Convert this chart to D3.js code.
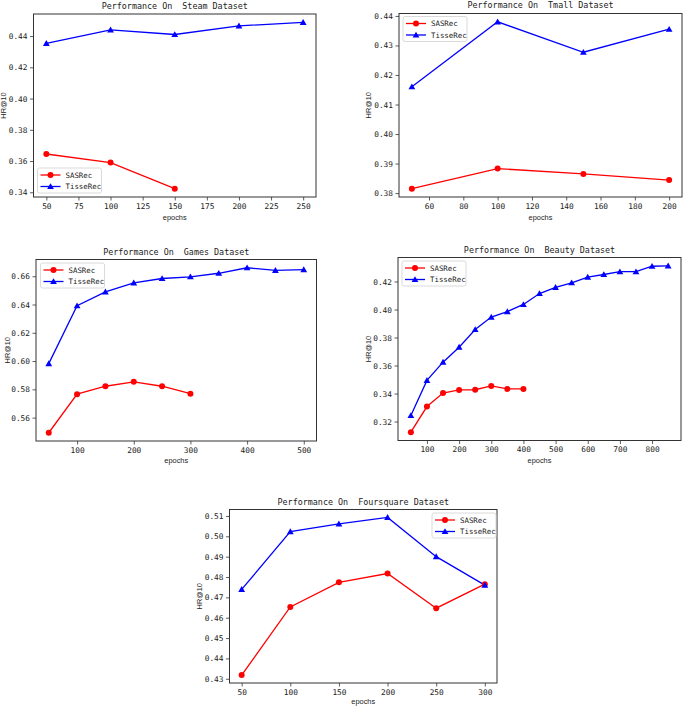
<!DOCTYPE html>
<html>
<head>
<meta charset="utf-8">
<script src="https://cdn.jsdelivr.net/npm/d3@7"></script>
<style>
  html, body { margin: 0; padding: 0; background: #fff; }
  svg { display: block; }
</style>
</head>
<body>
<svg id="chart" width="685" height="706"></svg>
<script>
// ---------------- DATA ----------------
const seriesNames = ["SASRec", "TisseRec"];

const steamEpochs = [50, 100, 150, 200, 250];
const steamSASRec = [0.3645, 0.3590, 0.3423];
const steamTisseRec = [0.4353, 0.4440, 0.4410, 0.4465, 0.4488];
const steamXTicks = [50, 75, 100, 125, 150, 175, 200, 225, 250];
const steamYTicks = [0.34, 0.36, 0.38, 0.40, 0.42, 0.44];

const tmallEpochs = [50, 100, 150, 200];
const tmallSASRec = [0.3815, 0.3883, 0.3865, 0.3844];
const tmallTisseRec = [0.4160, 0.4380, 0.4277, 0.4355];
const tmallXTicks = [60, 80, 100, 120, 140, 160, 180, 200];
const tmallYTicks = [0.38, 0.39, 0.40, 0.41, 0.42, 0.43, 0.44];

const gamesEpochs = [50, 100, 150, 200, 250, 300, 350, 400, 450, 500];
const gamesSASRec = [0.5493, 0.5766, 0.5822, 0.5853, 0.5822, 0.5769];
const gamesTisseRec = [0.5982, 0.6391, 0.6489, 0.6553, 0.6584, 0.6596, 0.6621, 0.6660, 0.6641, 0.6647];
const gamesXTicks = [100, 200, 300, 400, 500];
const gamesYTicks = [0.56, 0.58, 0.60, 0.62, 0.64, 0.66];

const beautyEpochs = [50, 100, 150, 200, 250, 300, 350, 400, 450, 500, 550, 600, 650, 700, 750, 800, 850];
const beautySASRec = [0.3124, 0.3307, 0.3403, 0.3426, 0.3427, 0.3454, 0.3433, 0.3433];
const beautyTisseRec = [0.3243, 0.3494, 0.3624, 0.3731, 0.3857, 0.3946, 0.3985, 0.4036, 0.4114, 0.4158, 0.4191, 0.4231, 0.4250, 0.4270, 0.4270, 0.4309, 0.4312];
const beautyXTicks = [100, 200, 300, 400, 500, 600, 700, 800];
const beautyYTicks = [0.32, 0.34, 0.36, 0.38, 0.40, 0.42];

const foursquareEpochs = [50, 100, 150, 200, 250, 300];
const foursquareSASRec = [0.4318, 0.4653, 0.4774, 0.4817, 0.4647, 0.4765];
const foursquareTisseRec = [0.4739, 0.5023, 0.5061, 0.5093, 0.4900, 0.4760];
const foursquareXTicks = [50, 100, 150, 200, 250, 300];
const foursquareYTicks = [0.43, 0.44, 0.45, 0.46, 0.47, 0.48, 0.49, 0.50, 0.51];

// ---------------- LAYOUT ----------------
const panels = [
  { title: "Performance On  Steam Dataset", epochs: steamEpochs, sas: steamSASRec, tisse: steamTisseRec,
    xTicks: steamXTicks, yTicks: steamYTicks,
    box: { x0: 33.5, x1: 316, y0: 14, y1: 197 }, titleY: 9, xlabY: 220, ylabX: 6,
    legend: { x: 37.5, y: 168 } },
  { title: "Performance On  Tmall Dataset", epochs: tmallEpochs, sas: tmallSASRec, tisse: tmallTisseRec,
    xTicks: tmallXTicks, yTicks: tmallYTicks,
    box: { x0: 399, x1: 682, y0: 13.5, y1: 197 }, titleY: 8, xlabY: 220, ylabX: 371,
    legend: { x: 403, y: 16.5 } },
  { title: "Performance On  Games Dataset", epochs: gamesEpochs, sas: gamesSASRec, tisse: gamesTisseRec,
    xTicks: gamesXTicks, yTicks: gamesYTicks,
    box: { x0: 36, x1: 316.5, y0: 259.5, y1: 441 }, titleY: 255, xlabY: 463, ylabX: 10,
    legend: { x: 40.5, y: 263 } },
  { title: "Performance On  Beauty Dataset", epochs: beautyEpochs, sas: beautySASRec, tisse: beautyTisseRec,
    xTicks: beautyXTicks, yTicks: beautyYTicks,
    box: { x0: 398, x1: 681, y0: 257.5, y1: 440.5 }, titleY: 252.5, xlabY: 463, ylabX: 371,
    legend: { x: 402, y: 261 } },
  { title: "Performance On  Foursquare Dataset", epochs: foursquareEpochs, sas: foursquareSASRec, tisse: foursquareTisseRec,
    xTicks: foursquareXTicks, yTicks: foursquareYTicks,
    box: { x0: 229.5, x1: 497, y0: 509.5, y1: 683 }, titleY: 505, xlabY: 704, ylabX: 202,
    legend: { x: 432, y: 513 } }
];

const RED = "#ff0000", BLUE = "#0000ff";
const MONO = "'DejaVu Sans Mono', 'Liberation Mono', monospace";
const SANS = "'Liberation Sans', Arial, sans-serif";

const svg = d3.select("#chart");

function pad(ext) {
  const r = ext[1] - ext[0];
  return [ext[0] - 0.05 * r, ext[1] + 0.05 * r];
}

panels.forEach(p => {
  const b = p.box;
  const sasPts = p.sas.map((v, i) => ({ x: p.epochs[i], y: v }));
  const tisPts = p.tisse.map((v, i) => ({ x: p.epochs[i], y: v }));
  const all = sasPts.concat(tisPts);

  const x = d3.scaleLinear().domain(pad(d3.extent(all, d => d.x))).range([b.x0, b.x1]);
  const y = d3.scaleLinear().domain(pad(d3.extent(all, d => d.y))).range([b.y1, b.y0]);

  const g = svg.append("g");

  // axes
  const xAxis = d3.axisBottom(x).tickValues(p.xTicks).tickSize(3.5).tickPadding(2.5).tickFormat(d3.format("d"));
  const yAxis = d3.axisLeft(y).tickValues(p.yTicks).tickSize(3.5).tickPadding(2.5)
    .tickFormat(d3.format(p.yTicks[1] - p.yTicks[0] < 0.015 ? ".2f" : ".2f"));

  const gx = g.append("g").attr("transform", `translate(0,${b.y1})`).call(xAxis);
  const gy = g.append("g").attr("transform", `translate(${b.x0},0)`).call(yAxis);
  [gx, gy].forEach(a => {
    a.select(".domain").remove();
    a.selectAll(".tick line").attr("stroke", "#333").attr("stroke-width", 0.8);
    a.selectAll(".tick text").attr("fill", "#222").style("font-family", MONO).style("font-size", "7.8px");
  });

  // frame
  g.append("rect")
    .attr("x", b.x0).attr("y", b.y0)
    .attr("width", b.x1 - b.x0).attr("height", b.y1 - b.y0)
    .attr("fill", "none").attr("stroke", "#333").attr("stroke-width", 1);

  // lines
  const line = d3.line().x(d => x(d.x)).y(d => y(d.y));
  g.append("path").datum(sasPts).attr("d", line)
    .attr("fill", "none").attr("stroke", RED).attr("stroke-width", 1.3);
  g.append("path").datum(tisPts).attr("d", line)
    .attr("fill", "none").attr("stroke", BLUE).attr("stroke-width", 1.3);

  // markers
  g.selectAll(".sas").data(sasPts).enter().append("circle")
    .attr("cx", d => x(d.x)).attr("cy", d => y(d.y)).attr("r", 3)
    .attr("fill", RED);
  const tri = d3.symbol().type(d3.symbolTriangle).size(20);
  g.selectAll(".tis").data(tisPts).enter().append("path")
    .attr("d", tri)
    .attr("transform", d => `translate(${x(d.x)},${y(d.y) + 0.6})`)
    .attr("fill", BLUE);

  // title
  g.append("text").attr("x", (b.x0 + b.x1) / 2).attr("y", p.titleY)
    .attr("text-anchor", "middle").attr("fill", "#222")
    .style("font-family", MONO).style("font-size", "8.4px").style("white-space", "pre")
    .attr("xml:space", "preserve")
    .text(p.title);

  // axis labels
  g.append("text").attr("x", (b.x0 + b.x1) / 2).attr("y", p.xlabY)
    .attr("text-anchor", "middle").attr("fill", "#222")
    .style("font-family", SANS).style("font-size", "7.4px")
    .text("epochs");
  g.append("text")
    .attr("transform", `translate(${p.ylabX},${(b.y0 + b.y1) / 2}) rotate(-90)`)
    .attr("text-anchor", "middle").attr("fill", "#222")
    .style("font-family", SANS).style("font-size", "7.4px")
    .text("HR@10");

  // legend
  const L = p.legend;
  const lg = g.append("g").attr("transform", `translate(${L.x},${L.y})`);
  lg.append("rect").attr("x", 0).attr("y", 0).attr("width", 64).attr("height", 25)
    .attr("rx", 2).attr("fill", "#fff").attr("fill-opacity", 0.85)
    .attr("stroke", "#d0d0d0").attr("stroke-width", 0.8);
  const colors = [RED, BLUE];
  seriesNames.forEach((name, i) => {
    const cy = 7 + i * 11.5;
    lg.append("line").attr("x1", 3).attr("x2", 23).attr("y1", cy).attr("y2", cy)
      .attr("stroke", colors[i]).attr("stroke-width", 1.3);
    if (i === 0) {
      lg.append("circle").attr("cx", 13).attr("cy", cy).attr("r", 3).attr("fill", RED);
    } else {
      lg.append("path").attr("d", tri).attr("transform", `translate(13,${cy + 0.6})`).attr("fill", BLUE);
    }
    lg.append("text").attr("x", 28).attr("y", cy + 2.7)
      .attr("fill", "#222").style("font-family", MONO).style("font-size", "7.4px")
      .text(name);
  });
});
</script>
</body>
</html>
